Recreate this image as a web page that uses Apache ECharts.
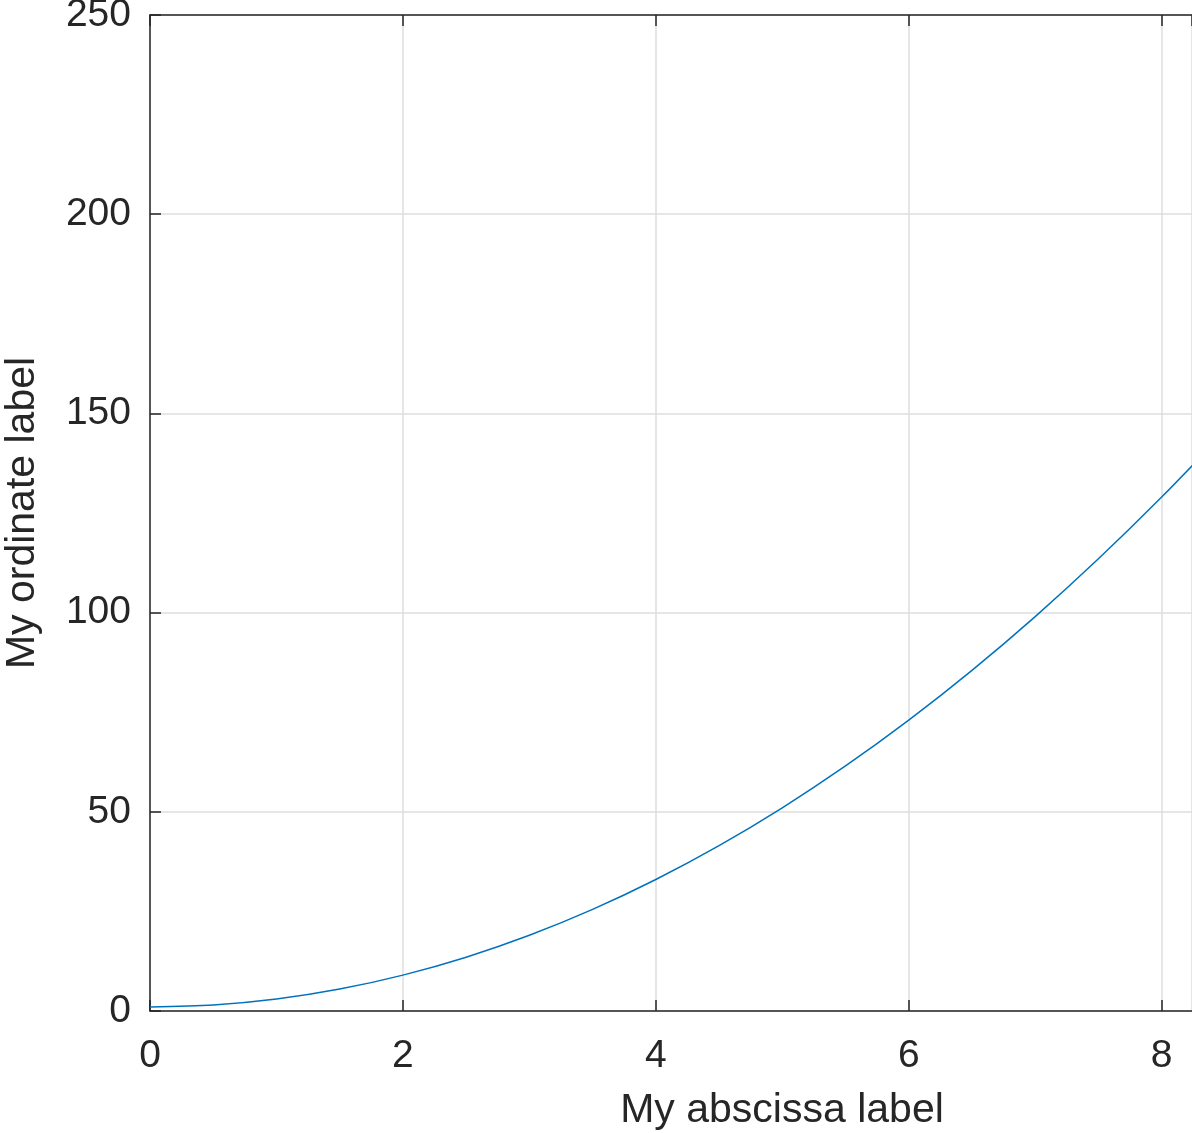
<!DOCTYPE html>
<html>
<head>
<meta charset="utf-8">
<script src="https://cdn.jsdelivr.net/npm/echarts@6/dist/echarts.min.js"></script>
<style>
html,body{margin:0;padding:0;background:#fff;}
#chart{width:1192px;height:1133px;}
</style>
</head>
<body>
<div id="chart"></div>
<script>
const xValues = [0, 0.5, 1, 1.5, 2, 2.5, 3, 3.5, 4, 4.5, 5, 5.5, 6, 6.5, 7, 7.5, 8, 8.5];
const yValues = [1, 1.5, 3, 5.5, 9, 13.5, 19, 25.5, 33, 41.5, 51, 61.5, 73, 85.5, 99, 113.5, 129, 145.5];
const xTitle = 'My abscissa label';
const yTitle = 'My ordinate label';

const textColor = '#262626';
const font = 'Liberation Sans, Arial, sans-serif';
const chart = echarts.init(document.getElementById('chart'));
const axisLineStyle = {show: true, lineStyle: {color: '#262626', width: 1.5}};
const tick = {show: true, inside: true, length: 11, lineStyle: {color: '#262626', width: 1.5}};
chart.setOption({
  animation: false,
  backgroundColor: '#ffffff',
  grid: {left: 150, right: 0, top: 15, bottom: 122, containLabel: false, outerBoundsMode: 'none'},
  xAxis: [{
    type: 'value', min: 0, max: 8.24, interval: 2, position: 'bottom',
    name: xTitle, nameLocation: 'middle', nameGap: 79,
    nameTextStyle: {color: textColor, fontSize: 41, fontFamily: font, padding: [0, 0, 0, 222]},
    axisLine: axisLineStyle, axisTick: tick,
    axisLabel: {color: textColor, fontSize: 39, fontFamily: font, margin: 26, showMaxLabel: false},
    splitLine: {show: true, lineStyle: {color: '#dedede', width: 1.5}}
  }, {
    type: 'value', min: 0, max: 8.24, interval: 2, position: 'top',
    axisLine: axisLineStyle, axisTick: tick,
    axisLabel: {show: false}, splitLine: {show: false}
  }],
  yAxis: [{
    type: 'value', min: 0, max: 250, interval: 50, position: 'left',
    name: yTitle, nameLocation: 'middle', nameGap: 107, nameRotate: 90,
    nameTextStyle: {color: textColor, fontSize: 41, fontFamily: font},
    axisLine: axisLineStyle, axisTick: tick,
    axisLabel: {color: textColor, fontSize: 39, fontFamily: font, margin: 19, padding: [5, 0, 0, 0]},
    splitLine: {show: true, lineStyle: {color: '#dedede', width: 1.5}}
  }],
  series: [{
    type: 'line', xAxisIndex: 0, yAxisIndex: 0,
    data: xValues.map((x, i) => [x, yValues[i]]),
    smooth: 0.3, showSymbol: false, clip: true,
    lineStyle: {color: '#0072bd', width: 1.5}
  }]
});
</script>
</body>
</html>
